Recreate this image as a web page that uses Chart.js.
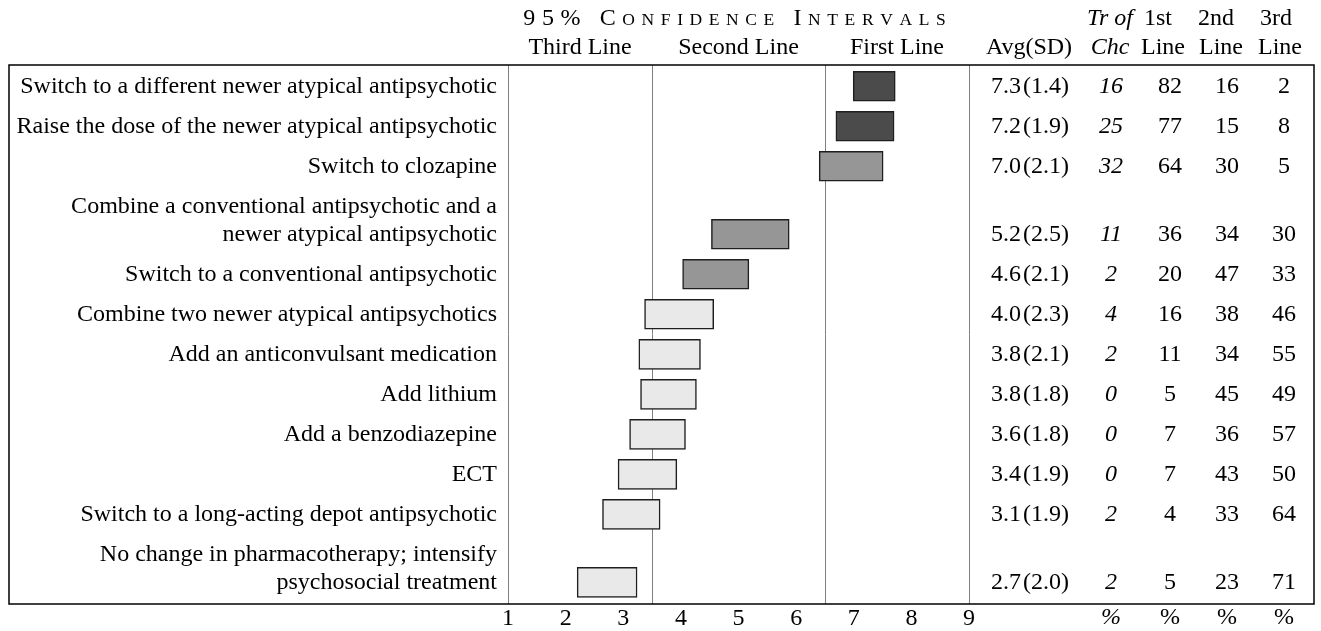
<!DOCTYPE html>
<html>
<head>
<meta charset="utf-8">
<script src="https://cdn.jsdelivr.net/npm/chart.js@4.4.0/dist/chart.umd.min.js"></script>
<style>
  html, body { margin: 0; padding: 0; background: #fff; }
</style>
</head>
<body>
<canvas id="ciChart" width="1321" height="631"></canvas>
<script>
// treatment labels (one entry per printed line)
const treatments = [
  ["Switch to a different newer atypical antipsychotic"],
  ["Raise the dose of the newer atypical antipsychotic"],
  ["Switch to clozapine"],
  ["Combine a conventional antipsychotic and a", "newer atypical antipsychotic"],
  ["Switch to a conventional antipsychotic"],
  ["Combine two newer atypical antipsychotics"],
  ["Add an anticonvulsant medication"],
  ["Add lithium"],
  ["Add a benzodiazepine"],
  ["ECT"],
  ["Switch to a long-acting depot antipsychotic"],
  ["No change in pharmacotherapy; intensify", "psychosocial treatment"]
];
// 95% confidence interval bounds
const ciLow  = [6.99, 6.69, 6.40, 4.53, 4.03, 3.37, 3.27, 3.30, 3.11, 2.91, 2.64, 2.20];
const ciHigh = [7.72, 7.70, 7.51, 5.88, 5.18, 4.57, 4.34, 4.27, 4.08, 3.93, 3.64, 3.24];
const avg = [7.3, 7.2, 7.0, 5.2, 4.6, 4.0, 3.8, 3.8, 3.6, 3.4, 3.1, 2.7];
const sd  = [1.4, 1.9, 2.1, 2.5, 2.1, 2.3, 2.1, 1.8, 1.8, 1.9, 1.9, 2.0];
const trOfChc    = [16, 25, 32, 11, 2, 4, 2, 0, 0, 0, 2, 2];
const firstLine  = [82, 77, 64, 36, 20, 16, 11, 5, 7, 7, 4, 5];
const secondLine = [16, 15, 30, 34, 47, 38, 34, 45, 36, 43, 33, 23];
const thirdLine  = [2, 8, 5, 30, 33, 46, 55, 49, 57, 50, 64, 71];
const scaleTicks = [1, 2, 3, 4, 5, 6, 7, 8, 9];
const zoneBreaks = [3.5, 6.5];
const zoneNames = ["Third Line", "Second Line", "First Line"];
const tableHeads = [["", "Avg(SD)"], ["Tr of", "Chc"], ["1st", "Line"], ["2nd", "Line"], ["3rd", "Line"]];
const tableFoot = ["", "%", "%", "%", "%"];

const SERIF = "'Liberation Serif', 'Times New Roman', serif";
const FONT_SIZE = 24;
const EXTRA_LINE = 0.7; // extra row space for each added label line
const FRAME_LEFT = 9, FRAME_RIGHT = 1314;
const COLS = [1030, 1111, 1170, 1227, 1284];
const HEAD_TOP = [1029, 1110, 1158, 1216, 1276];
const HEAD_BOTTOM = [1029, 1110, 1163, 1221, 1280];

function serif(size, italic) {
  return (italic ? "italic " : "") + size + "px " + SERIF;
}

// row positions on the y scale: two-line labels push the rows down
let extra = 0;
const rowPos = treatments.map((lines, i) => {
  extra += (lines.length - 1) * EXTRA_LINE;
  return i + extra;
});

function tierColor(lo) {
  if (lo >= zoneBreaks[1]) return "#4b4b4b";
  if (lo >= zoneBreaks[0]) return "#969696";
  return "#e9e9e9";
}

function drawSmallCaps(ctx, text, cx, baseline, big, small, spacing) {
  const glyphs = [...text].map(ch => {
    const lower = ch !== ch.toUpperCase();
    return { ch: lower ? ch.toUpperCase() : ch, font: serif(lower ? small : big) };
  });
  let total = spacing * (glyphs.length - 1);
  glyphs.forEach(g => {
    ctx.font = g.font;
    g.w = ctx.measureText(g.ch).width;
    total += g.w;
  });
  let x = cx - total / 2;
  ctx.textAlign = "left";
  glyphs.forEach(g => {
    ctx.font = g.font;
    ctx.fillText(g.ch, x, baseline);
    x += g.w + spacing;
  });
}

const framePlugin = {
  id: "frame",
  beforeDatasetsDraw(chart) {
    const { ctx, chartArea: a, scales: { x } } = chart;
    ctx.save();
    ctx.strokeStyle = "#808080";
    ctx.lineWidth = 1;
    [x.min, ...zoneBreaks, x.max].forEach(v => {
      const px = Math.round(x.getPixelForValue(v)) + 0.5;
      ctx.beginPath();
      ctx.moveTo(px, a.top);
      ctx.lineTo(px, a.bottom);
      ctx.stroke();
    });
    ctx.strokeStyle = "#000";
    ctx.lineWidth = 1.5;
    ctx.strokeRect(FRAME_LEFT, a.top, FRAME_RIGHT - FRAME_LEFT, a.bottom - a.top);
    ctx.restore();
  },
  afterDraw(chart) {
    const { ctx, chartArea: a, scales: { x, y } } = chart;
    ctx.save();
    ctx.fillStyle = "#000";
    ctx.textBaseline = "alphabetic";

    // header over the interval plot
    drawSmallCaps(ctx, "95% Confidence Intervals", (a.left + a.right) / 2 - 4, 25, FONT_SIZE, 17.5, 6.6);
    ctx.font = serif(FONT_SIZE);
    ctx.textAlign = "center";
    const bounds = [x.min, ...zoneBreaks, x.max];
    zoneNames.forEach((name, i) => {
      const cx = (x.getPixelForValue(bounds[i]) + x.getPixelForValue(bounds[i + 1])) / 2;
      ctx.fillText(name, cx, 54);
    });

    // table header
    tableHeads.forEach((h, c) => {
      ctx.font = serif(FONT_SIZE, c === 1);
      ctx.fillText(h[0], HEAD_TOP[c], 25);
      ctx.fillText(h[1], HEAD_BOTTOM[c], 54);
    });

    // table rows
    ctx.textBaseline = "middle";
    rowPos.forEach((p, i) => {
      const py = y.getPixelForValue(p);
      const cells = [
        avg[i].toFixed(1) + "\u200A(" + sd[i].toFixed(1) + ")",
        trOfChc[i], firstLine[i], secondLine[i], thirdLine[i]
      ];
      cells.forEach((t, c) => {
        ctx.font = serif(FONT_SIZE, c === 1);
        ctx.fillText(String(t), COLS[c], py);
      });
    });

    // percent footer
    tableFoot.forEach((t, c) => {
      ctx.font = serif(FONT_SIZE, c === 1);
      ctx.fillText(t, COLS[c], a.bottom + 14);
    });
    ctx.restore();
  }
};

const ctx = document.getElementById("ciChart").getContext("2d");

new Chart(ctx, {
  type: "bar",
  data: {
    datasets: [
      {
        data: rowPos.map((p, i) => ({ y: p, x: [ciLow[i], ciHigh[i]] })),
        backgroundColor: ciLow.map(tierColor),
        borderColor: "#1e1e1e",
        borderWidth: 1.5,
        borderSkipped: false,
        barThickness: 30,
      },
    ],
  },
  options: {
    indexAxis: "y",
    responsive: false,
    animation: false,
    layout: {
      padding: { top: 65, right: 352, left: 8, bottom: 0 },
    },
    plugins: {
      legend: { display: false },
      tooltip: { enabled: false },
    },
    scales: {
      x: {
        type: "linear",
        min: 1,
        max: 9,
        offset: false,
        grid: { display: false, drawTicks: false },
        border: { display: false },
        afterBuildTicks: s => { s.ticks = scaleTicks.map(v => ({ value: v })); },
        afterFit: s => { s.height = 27; },
        ticks: {
          padding: 0,
          color: "#000",
          font: { family: SERIF, size: FONT_SIZE, lineHeight: 1.2 },
        },
      },
      y: {
        type: "linear",
        reverse: true,
        offset: false,
        min: -0.53,
        max: rowPos[rowPos.length - 1] + 0.54,
        grid: { display: false, drawTicks: false, offset: false },
        border: { display: false },
        afterBuildTicks: s => {
          s.ticks = rowPos.map((p, i) => ({ value: p - (treatments[i].length - 1) * EXTRA_LINE / 2 }));
        },
        afterFit: s => { s.width = 500; },
        ticks: {
          autoSkip: false,
          padding: 11,
          color: "#000",
          callback: (v, i) => treatments[i],
          font: { family: SERIF, size: FONT_SIZE, lineHeight: 28 / 24 },
        },
      },
    },
  },
  plugins: [framePlugin],
});
</script>
</body>
</html>
